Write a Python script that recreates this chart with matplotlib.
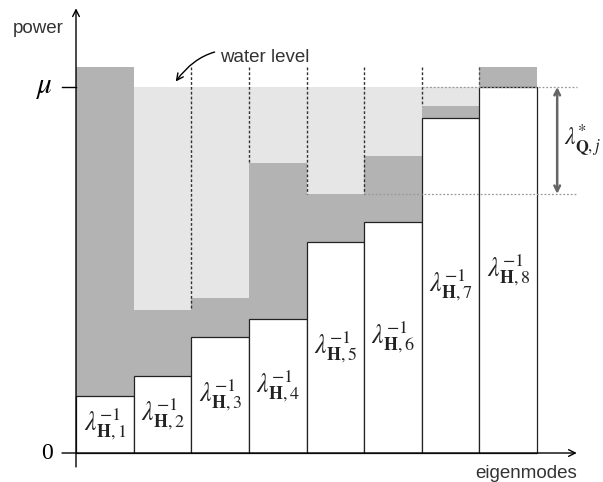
import numpy as np
import matplotlib.pyplot as plt

# water-filling picture: inverse channel gains, water level mu
modes = np.arange(8)
inv_gain = [1.56, 2.10, 3.17, 3.66, 5.77, 6.31, 9.15, 10.0]
level_top = [10.55, 3.91, 4.23, 7.92, 7.08, 8.11, 9.48, 10.55]
mu = 10.0
labels = [r'$\lambda^{-1}_{\mathbf{H},%d}$' % (i + 1) for i in modes]
divider_ref = [1, 3, 4, 4, 6]  # bar whose level ends each dotted divider
span_ref = 4                    # bar whose level gives the lower end of the bracket

dark = '#b3b3b3'
light = '#e6e6e6'

plt.rcParams['mathtext.fontset'] = 'stix'
plt.rcParams['font.family'] = ['Liberation Sans', 'DejaVu Sans']

fig = plt.figure(figsize=(6.03, 4.82), dpi=100)
ax = fig.add_axes([0, 0, 1, 1])
ax.axis('off')
ax.set_xlim(-1.319, 9.145)
ax.set_ylim(-0.792, 12.377)

for i in modes:
    g = inv_gain[i]
    top = level_top[i]
    ax.bar(i, top - g, bottom=g, width=1, align='edge', color=dark, zorder=1)
    if top < mu:
        ax.bar(i, mu - top, bottom=top, width=1, align='edge', color=light, zorder=1)
    ax.bar(i, g, width=1, align='edge', color='white', edgecolor='#222222',
           linewidth=0.9, zorder=2)
    ax.text(i + 0.5, g / 2, labels[i], ha='center', va='center', fontsize=18.5,
            color='#222222', zorder=3)

# dotted dividers between the flooded modes
for k, ref in enumerate(divider_ref):
    ax.plot([k + 2, k + 2], [level_top[0], level_top[ref]], color='#333333',
            lw=1, ls=(0, (2, 1.5)), zorder=3)
ax.plot([7, 7], [level_top[7], mu], color='#555555', lw=1, ls=(0, (2, 1.5)), zorder=3)

# guides for the bracket
ax.plot([6, 8.69], [mu, mu], color='#999999', lw=0.9, ls=(0, (1.5, 1.5)), zorder=3)
ax.plot([5, 8.69], [level_top[span_ref]] * 2, color='#999999', lw=0.9,
        ls=(0, (1.5, 1.5)), zorder=3)
ax.annotate('', xy=(8.35, mu), xytext=(8.35, level_top[span_ref]),
            arrowprops=dict(arrowstyle='<->', color='#666666', lw=1.8,
                            shrinkA=0, shrinkB=0, mutation_scale=10))
ax.text(8.795, (mu + level_top[span_ref]) / 2, r'$\lambda^{*}_{\mathbf{Q},j}$',
        ha='center', va='center', fontsize=17, color='#222222')

# axes with arrow heads
ax.annotate('', xy=(0, 12.15), xytext=(0, -0.38),
            arrowprops=dict(arrowstyle='->', color='black', lw=1,
                            shrinkA=0, shrinkB=0, mutation_scale=12))
ax.annotate('', xy=(8.69, 0), xytext=(-0.243, 0),
            arrowprops=dict(arrowstyle='->', color='black', lw=1,
                            shrinkA=0, shrinkB=0, mutation_scale=12))
ax.plot([-0.243, 0], [mu, mu], color='black', lw=1)

ax.text(-0.55, mu, r'$\mu$', ha='center', va='center', fontsize=21)
ax.text(-0.5, 0, '0', ha='center', va='center', fontsize=17, family='Liberation Serif')
ax.text(-0.65, 11.6, 'power', ha='center', va='center', fontsize=13.5, color='#333333')
ax.text(8.69, -0.55, 'eigenmodes', ha='right', va='center', fontsize=13.5, color='#333333')

ax.annotate('water level', xy=(1.73, 10.15), xytext=(2.5, 10.8),
            ha='left', va='center', fontsize=13.5, color='#333333',
            arrowprops=dict(arrowstyle='->', color='black', lw=1,
                            connectionstyle='arc3,rad=0.4',
                            shrinkA=2, shrinkB=0, mutation_scale=12))

fig.savefig('out.png', dpi=100)
